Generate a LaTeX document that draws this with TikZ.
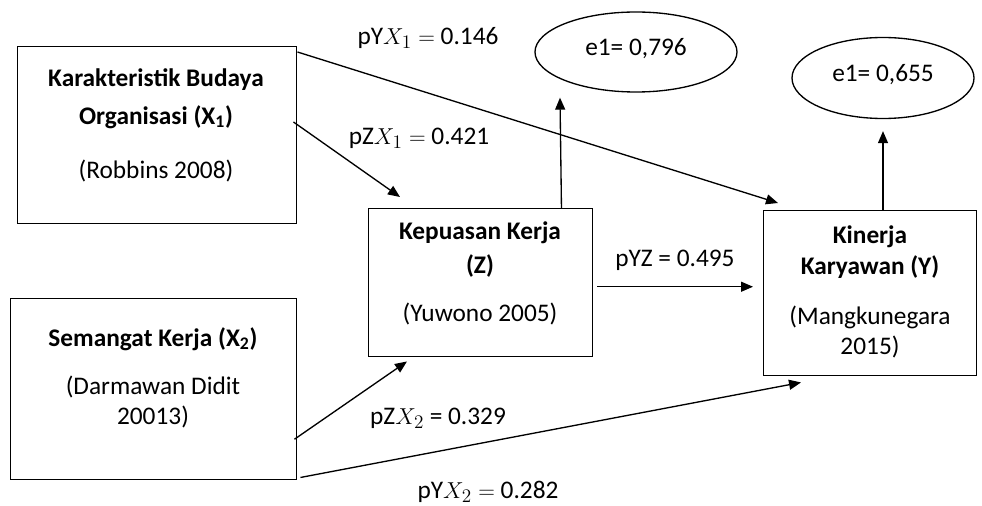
\documentclass[tikz,border=0pt]{standalone}
\usepackage{fontspec}
\setmainfont{Carlito}
\usetikzlibrary{arrows.meta,calc,shapes.geometric}
\begin{document}
\begin{tikzpicture}[x=0.75pt,y=-0.75pt,
  box/.style={draw, line width=1.1pt, anchor=north west, inner sep=0pt},
  oval/.style={draw, ellipse, line width=1pt, inner sep=0pt},
  txt/.style={inner sep=0pt, anchor=center, font=\fontsize{19}{23}\selectfont\strut},
  btxt/.style={txt, font=\fontsize{19}{23}\selectfont\bfseries\strut},
  lbl/.style={inner sep=0pt, anchor=center, font=\fontsize{19}{23}\selectfont\strut},
  arr/.style={line width=1pt, -{Triangle[length=9pt,width=7.5pt]}}]
\useasboundingbox (0,0) rectangle (982,506);

% boxes
\node[box, minimum width=209.25pt, minimum height=132.75pt] (X1) at (17,46) {};
\node[box, minimum width=214.5pt, minimum height=135.75pt] (X2) at (10,298) {};
\node[box, minimum width=168pt, minimum height=111pt] (Z) at (368,208) {};
\node[box, minimum width=159.75pt, minimum height=123.75pt] (Y) at (763,210) {};

% ellipses
\node[oval, minimum width=151.5pt, minimum height=60pt] (eZ) at (636,52) {};
\node[oval, minimum width=136.5pt, minimum height=60.75pt] (eY) at (883,78) {};
\node[txt] (eZt) at (636,49) {e1= 0,796};
\node[txt] (eYt) at (883,75) {e1= 0,655};

% box texts
\node[btxt] (X1a) at (156,80) {Karakteristik Budaya};
\node[btxt] (X1b) at (156,118) {Organisasi (X\textsubscript{1})};
\node[txt] (X1c) at (156,172) {(Robbins 2008)};

\node[btxt] (X2a) at (153,340) {Semangat Kerja (X\textsubscript{2})};
\node[txt] (X2b) at (153,388) {(Darmawan Didit};
\node[txt] (X2c) at (153,418) {20013)};

\node[btxt] (Za) at (480,233) {Kepuasan Kerja};
\node[btxt] (Zb) at (480,267) {(Z)};
\node[txt] (Zc) at (480,315) {(Yuwono 2005)};

\node[btxt] (Ya) at (870,237) {Kinerja};
\node[btxt] (Yb) at (870,268) {Karyawan (Y)};
\node[txt] (Yc) at (870,318) {(Mangkunegara};
\node[txt] (Yd) at (870,348) {2015)};

% connectors
\draw[arr] ($(X1.north east)+(0,6)$) -- ($(Y.north west)+(15,-7)$);
\draw[arr] ($(X1.north east)+(-4,76)$) -- ($(Z.north west)+(32,-11)$);
\draw[arr] ($(Z.north east)+(-32,0)$) -- ($(eZ.south)+(-76,5)$);
\draw[arr] ($(Z.east)+(4,4)$) -- ($(Y.west)+(-10,-6.5)$);
\draw[arr] ($(X2.east)+(-3,50)$) -- ($(Z.south west)+(39,4)$);
\draw[arr] ($(X2.south east)+(3,-3)$) -- ($(Y.south west)+(38,6)$);
\draw[arr] (Y.north -| eY.south) -- ($(eY.south)+(0,12)$);

% path labels
\node[lbl] (l1) at (428,38) {pY$X_1=$ 0.146};
\node[lbl] (l2) at (419,138) {pZ$X_1=$ 0.421};
\node[lbl] (l3) at (675,260) {pYZ = 0.495};
\node[lbl] (l4) at (438,418) {pZ$X_2$ = 0.329};
\node[lbl] (l5) at (488,492) {pY$X_2=$ 0.282};
\end{tikzpicture}
\end{document}
